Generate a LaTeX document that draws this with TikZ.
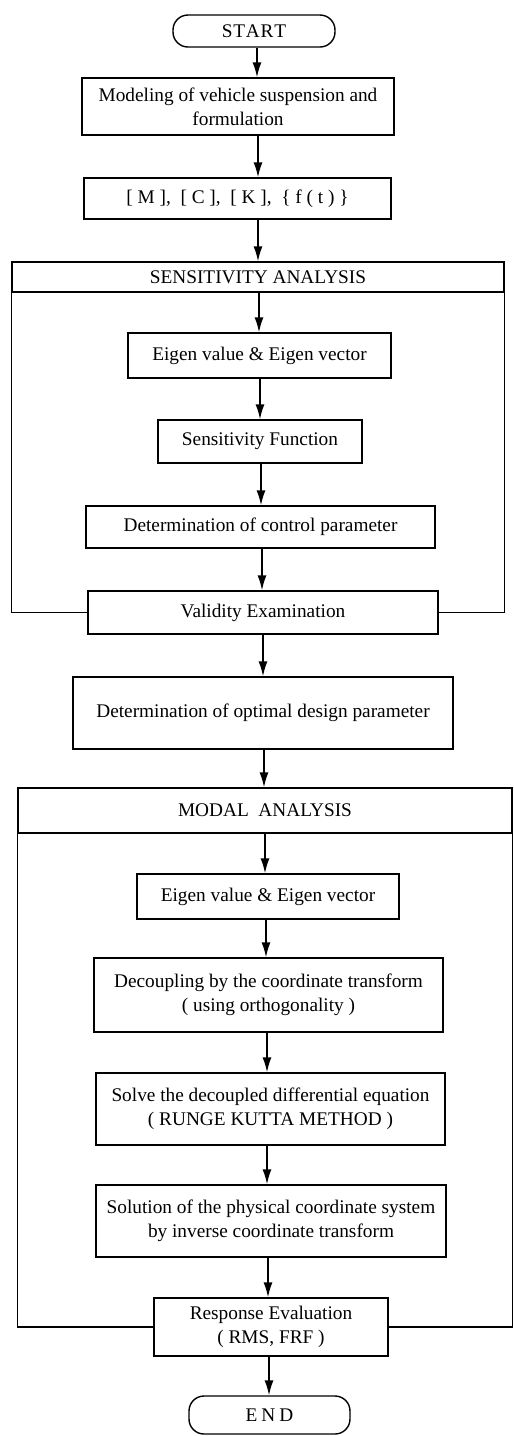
\documentclass[tikz,border=0pt]{standalone}
\usepackage{fontspec}
\setmainfont{Liberation Serif}
\usetikzlibrary{arrows.meta,calc}
\begin{document}
\begin{tikzpicture}[x=1pt,y=-1pt,
  line width=1.4pt,
  box/.style={draw,rectangle,inner sep=0pt,align=center,font=\fontsize{19.3}{24}\selectfont},
  term/.style={draw,rectangle,rounded corners=15pt,inner sep=0pt,font=\fontsize{19.3}{24}\selectfont},
  hdr/.style={font=\fontsize{19.3}{24}\selectfont},
  arr/.style={-{Latex[length=15pt,width=9pt]}},
  frame/.style={line width=1.4pt}]
\useasboundingbox (0,0) rectangle (514,1436);
% nodes
\node[term,minimum width=162pt,minimum height=32pt] (start) at (254,31) {S\kern0.8pt T\kern0.8pt A\kern0.8pt R\kern0.8pt T};
\node[box,minimum width=312pt,minimum height=57pt] (model) at (238,106.5) {Modeling of vehicle suspension and\\formulation};
\node[box,minimum width=307pt,minimum height=41pt] (mck) at (237.5,198.5) {[ M ],\ \ [ C ],\ \ [ K ],\ \ \{ f ( t ) \}};
% sensitivity header and frame
\node[draw,rectangle,inner sep=0pt,minimum width=492pt,minimum height=30pt,hdr] (sens) at (258,277) {SENSITIVITY ANALYSIS};
\node[box,minimum width=263pt,minimum height=45pt] (eig1) at (259.5,355.5) {Eigen value \& Eigen vector};
\node[box,minimum width=204pt,minimum height=43pt] (sfun) at (260,441.5) {Sensitivity Function};
\node[box,minimum width=349pt,minimum height=42pt] (detc) at (260.5,527) {Determination of control parameter};
\node[box,minimum width=350pt,minimum height=43pt] (valid) at (263,612.5) {Validity Examination};
\node[box,minimum width=380pt,minimum height=72pt] (opt) at (263,713) {Determination of optimal design parameter};
% modal header and frame
\node[draw,rectangle,inner sep=0pt,minimum width=494pt,minimum height=45pt,hdr] (modal) at (265,810.5) {MODAL\ \ ANALYSIS};
\node[box,minimum width=262pt,minimum height=45pt] (eig2) at (268,896.5) {Eigen value \& Eigen vector};
\node[box,minimum width=349pt,minimum height=74pt] (dec) at (268.5,995) {Decoupling by the coordinate transform\\( using orthogonality )};
\node[box,minimum width=349pt,minimum height=72pt] (solve) at (270.5,1109) {Solve the decoupled differential equation\\( RUNGE KUTTA METHOD )};
\node[box,minimum width=350pt,minimum height=72pt] (sol) at (271,1221) {Solution of the physical coordinate system\\by inverse coordinate transform};
\node[box,minimum width=234pt,minimum height=58pt] (resp) at (271,1327) {Response Evaluation\\( RMS, FRF )};
\node[term,minimum width=161pt,minimum height=38pt] (end) at (269.5,1415) {E\kern4pt N\kern4pt D};
% frames
\draw[frame] (sens.south west) -- (sens.south west |- valid.west) -- (valid.west);
\draw[frame] (sens.south east) -- (sens.south east |- valid.east) -- (valid.east);
\draw[frame] (modal.south west) -- (modal.south west |- resp.west) -- (resp.west);
\draw[frame] (modal.south east) -- (modal.south east |- resp.east) -- (resp.east);
% arrow axes
\coordinate (a1) at (257,0);
\coordinate (a2) at (258,0);
\coordinate (a3) at (258,0);
\coordinate (a4) at (259,0);
\coordinate (a5) at (260,0);
\coordinate (a6) at (261,0);
\coordinate (a7) at (262,0);
\coordinate (a8) at (263,0);
\coordinate (a9) at (264,0);
\coordinate (a10) at (265,0);
\coordinate (a11) at (266,0);
\coordinate (a12) at (267,0);
\coordinate (a13) at (267,0);
\coordinate (a14) at (268,0);
\coordinate (a15) at (269,0);
% arrows
\draw[arr] (start.south -| a1) -- (model.north -| a1);
\draw[arr] (model.south -| a2) -- (mck.north -| a2);
\draw[arr] (mck.south -| a3) -- (sens.north -| a3);
\draw[arr] (sens.south -| a4) -- (eig1.north -| a4);
\draw[arr] (eig1.south -| a5) -- (sfun.north -| a5);
\draw[arr] (sfun.south -| a6) -- (detc.north -| a6);
\draw[arr] (detc.south -| a7) -- (valid.north -| a7);
\draw[arr] (valid.south -| a8) -- (opt.north -| a8);
\draw[arr] (opt.south -| a9) -- (modal.north -| a9);
\draw[arr] (modal.south -| a10) -- (eig2.north -| a10);
\draw[arr] (eig2.south -| a11) -- (dec.north -| a11);
\draw[arr] (dec.south -| a12) -- (solve.north -| a12);
\draw[arr] (solve.south -| a13) -- (sol.north -| a13);
\draw[arr] (sol.south -| a14) -- (resp.north -| a14);
\draw[arr] (resp.south -| a15) -- (end.north -| a15);
\end{tikzpicture}
\end{document}
